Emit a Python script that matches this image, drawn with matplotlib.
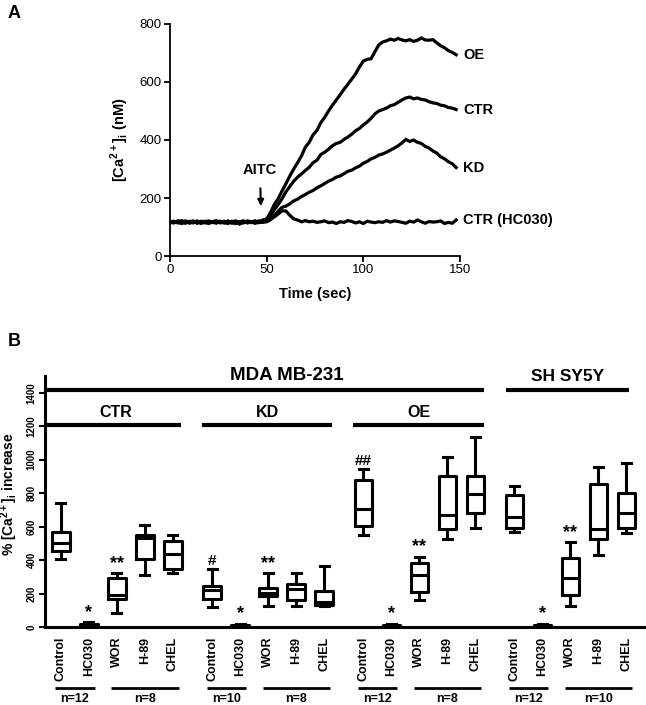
import matplotlib
matplotlib.use('Agg')
import matplotlib.pyplot as plt
import matplotlib.transforms as mtransforms
import numpy as np

plt.rcParams['font.family'] = ['Liberation Sans', 'DejaVu Sans']
plt.rcParams['mathtext.fontset'] = 'custom'
plt.rcParams['mathtext.rm'] = 'Liberation Sans'
plt.rcParams['mathtext.bf'] = 'Liberation Sans:bold'

# ---------------- Panel A data: [Ca2+]i traces (nM), sampled every 2 s
time_s = np.arange(0, 149, 2)

trace_oe = [116, 120, 114, 118, 121, 113, 117, 119, 112, 118, 121, 115, 119, 116, 120, 114,
            118, 121, 110, 117, 119, 115, 120, 118,
            124, 128, 150, 178, 198, 225, 250, 276, 300, 322, 345, 375, 392, 418, 433, 460,
            478, 500, 520, 538, 556, 575, 592, 610, 628, 652, 672, 678, 680, 705, 728, 738,
            742, 748, 744, 750, 745, 742, 746, 740, 744, 752, 745, 744, 746, 735, 725, 718,
            708, 702, 694]
trace_ctr = [119, 114, 121, 116, 113, 120, 118, 114, 120, 116, 112, 119, 121, 114, 117, 119,
             113, 116, 119, 114, 121, 118, 114, 121,
             120, 126, 140, 160, 178, 198, 222, 240, 258, 272, 283, 295, 306, 322, 330, 350,
             358, 368, 380, 388, 392, 402, 410, 420, 432, 440, 452, 462, 475, 490, 500, 505,
             510, 518, 522, 530, 538, 545, 548, 542, 545, 540, 538, 532, 528, 526, 520, 518,
             512, 510, 505]
trace_kd = [113, 118, 116, 112, 119, 116, 121, 113, 118, 114, 119, 117, 113, 120, 115, 112,
            120, 115, 113, 120, 116, 119, 113, 116,
            116, 118, 125, 140, 155, 168, 172, 180, 190, 196, 205, 212, 220, 226, 235, 242,
            250, 258, 264, 272, 276, 284, 292, 296, 304, 310, 320, 326, 335, 340, 348, 352,
            358, 365, 372, 380, 390, 402, 395, 400, 392, 388, 378, 372, 362, 355, 342, 335,
            325, 318, 305]
trace_hc030 = [117, 115, 119, 122, 115, 118, 114, 121, 116, 120, 113, 118, 121, 117, 114, 121,
               116, 112, 118, 121, 114, 117, 121, 115,
               118, 120, 126, 135, 145, 156, 155, 140, 128, 124, 118, 122, 118, 120, 116, 118,
               121, 115, 117, 112, 118, 116, 122, 119, 114, 118, 112, 120, 117, 115, 118, 116,
               122, 117, 121, 119, 116, 113, 120, 117, 124, 118, 113, 119, 117, 118, 121, 112,
               116, 113, 124]
trace_names = ['OE', 'CTR', 'KD', 'CTR (HC030)']

# ---------------- Panel B data: % [Ca2+]i increase box statistics
box_labels = ['Control', 'HC030', 'WOR', 'H-89', 'CHEL'] * 4
whisker_low = [408, 0, 84, 312, 324,
               120, 0, 128, 128, 128,
               548, 0, 164, 524, 592,
               566, 0, 128, 430, 564]
quart_1 = [456, 4, 168, 404, 348,
           168, 3, 184, 160, 130,
           604, 3, 210, 588, 684,
           590, 3, 194, 528, 590]
medians = [500, 10, 190, 530, 436,
           222, 8, 206, 230, 150,
           704, 8, 310, 670, 794,
           660, 8, 290, 584, 684]
quart_3 = [570, 18, 290, 552, 512,
           248, 14, 234, 256, 216,
           880, 14, 380, 904, 904,
           790, 14, 412, 856, 800]
whisker_high = [740, 28, 320, 608, 548,
                344, 20, 320, 320, 366,
                944, 20, 420, 1016, 1136,
                840, 20, 508, 956, 980]
sig_marks = ['', '*', '**', '', '',
             '#', '*', '**', '', '',
             '##', '*', '**', '', '',
             '', '*', '**', '', '']
group_n = [['n=12', 'n=8'], ['n=10', 'n=8'], ['n=12', 'n=8'], ['n=12', 'n=10']]
subgroups = ['CTR', 'KD', 'OE']
cell_lines = ['MDA MB-231', 'SH SY5Y']

fig = plt.figure(figsize=(6.46, 7.05), dpi=100)

# ================= Panel A =================
axA = fig.add_axes([170 / 646, 1 - 256 / 705, 290 / 646, 232 / 705])
for tr in [trace_oe, trace_ctr, trace_kd, trace_hc030]:
    axA.plot(time_s, tr, color='black', lw=2.3, solid_joinstyle='miter')
axA.set_xlim(0, 150)
axA.set_ylim(0, 800)
axA.set_xticks([0, 50, 100, 150])
axA.set_yticks([0, 200, 400, 600, 800])
for s in ['top', 'right']:
    axA.spines[s].set_visible(False)
for s in ['left', 'bottom']:
    axA.spines[s].set_linewidth(1.3)
axA.tick_params(direction='out', length=4, width=1.3, labelsize=9.5, pad=2)
axA.set_xlabel('Time (sec)', fontsize=10.5, fontweight='bold', labelpad=8)
axA.set_ylabel('[Ca$^{\\mathbf{2+}}$]$_\\mathbf{i}$ (nM)', fontsize=10.5, fontweight='bold',
               labelpad=6)
for name, tr in zip(trace_names, [trace_oe, trace_ctr, trace_kd, trace_hc030]):
    axA.text(time_s[-1] + 3.5, tr[-1], name, fontsize=10.5, fontweight='bold',
             va='center', ha='left', clip_on=False)
axA.annotate('AITC', xy=(47, 172), xytext=(46.5, 296), ha='center', va='center',
             fontsize=10.5, fontweight='bold',
             arrowprops=dict(arrowstyle='-|>', color='black', lw=1.5, shrinkA=6, shrinkB=0,
                             mutation_scale=9))
fig.text(8 / 646, 1 - 13 / 705, 'A', fontsize=13, fontweight='bold', va='center')

# ================= Panel B =================
axB = fig.add_axes([45 / 646, 1 - 627 / 705, 601 / 646, 251 / 705])
group_start = [1, 6.4, 11.8, 17.2]
positions = [g + k for g in group_start for k in range(5)]
stats = []
for i in range(len(box_labels)):
    stats.append(dict(whislo=whisker_low[i], q1=quart_1[i], med=medians[i],
                      q3=quart_3[i], whishi=whisker_high[i], label=box_labels[i]))
lw = 2.2
axB.bxp(stats, positions=positions, widths=0.62, showfliers=False,
        boxprops=dict(lw=lw, color='black'), medianprops=dict(lw=lw, color='black'),
        whiskerprops=dict(lw=lw, color='black'), capprops=dict(lw=lw, color='black'),
        capwidths=0.32)
axB.set_xlim(0.43, 21.9)
axB.set_ylim(0, 1500)
axB.set_yticks(range(0, 1401, 200))
axB.set_xticks(positions)
axB.set_xticklabels(box_labels, rotation=90, fontsize=9, fontweight='bold')
axB.tick_params(axis='x', length=0, pad=7)
axB.tick_params(axis='y', direction='out', length=4, width=1.5, labelsize=7, pad=2)
for lab in axB.get_yticklabels():
    lab.set_rotation(90)
    lab.set_va('center')
    lab.set_fontweight('bold')
for s in ['top', 'right']:
    axB.spines[s].set_visible(False)
for s in ['left', 'bottom']:
    axB.spines[s].set_linewidth(2.2)
axB.set_ylabel('% [Ca$^{\\mathbf{2+}}$]$_\\mathbf{i}$ increase', fontsize=10,
               fontweight='bold')
axB.yaxis.set_label_coords(-0.041, 0.53)

for x, top, m in zip(positions, whisker_high, sig_marks):
    if m:
        axB.text(x, top + 8, m, ha='center', va='bottom', fontsize=13 if '*' in m else 11,
                 fontweight='bold', linespacing=0.8)

# group bars
def hbar(ax, x0, x1, y, lw):
    ax.plot([x0, x1], [y, y], color='black', lw=lw, solid_capstyle='butt', clip_on=False)

hbar(axB, 0.43, group_start[2] + 4.3, 1414, 3)
axB.text((0.43 + group_start[2] + 4.3) / 2 + 0.8, 1450, cell_lines[0], ha='center',
         va='bottom', fontsize=13.5, fontweight='bold')
hbar(axB, group_start[3] - 0.3, 21.3, 1414, 3)
axB.text((group_start[3] - 0.3 + 21.3) / 2, 1450, cell_lines[1], ha='center',
         va='bottom', fontsize=12.5, fontweight='bold')
for g, name in zip(group_start[:3], subgroups):
    x0 = 0.43 if g == group_start[0] else g - 0.35
    hbar(axB, x0, g + 4.3, 1206, 3)
    axB.text((g - 0.35 + g + 4.3) / 2, 1240, name, ha='center', va='bottom',
             fontsize=11.5, fontweight='bold')

# n= underlines below tick labels
trans = mtransforms.blended_transform_factory(axB.transData, axB.transAxes)
for g, ns in zip(group_start, group_n):
    for (a, b), n in zip([(g - 0.2, g + 1.2), (g + 1.8, g + 4.2)], ns):
        axB.plot([a, b], [-0.243, -0.243], color='black', lw=2, transform=trans,
                 clip_on=False, solid_capstyle='butt')
        axB.text((a + b) / 2, -0.262, n, transform=trans, ha='center', va='top',
                 fontsize=9, fontweight='bold')

fig.text(8 / 646, 1 - 342 / 705, 'B', fontsize=13, fontweight='bold', va='center')

fig.savefig('out.png', dpi=100)
